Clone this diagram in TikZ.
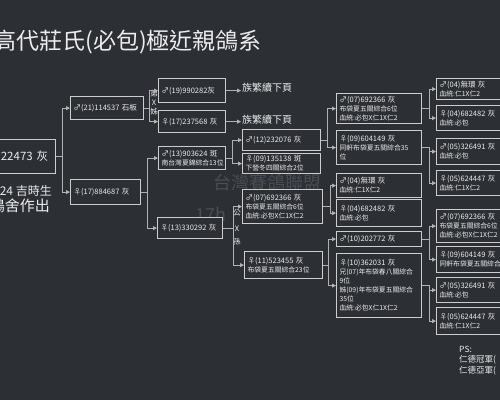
\documentclass[tikz,border=0pt]{standalone}
\usepackage{fontspec}
\setmainfont{Noto Sans CJK TC}
\usepackage{tikz}
\usetikzlibrary{arrows.meta,positioning}
\definecolor{bgc}{RGB}{44,47,52}
\definecolor{linec}{RGB}{205,205,205}
\definecolor{wirec}{RGB}{178,178,178}
\definecolor{txtc}{RGB}{236,236,236}
\definecolor{markc}{RGB}{74,78,84}
\tikzset{pbox/.style 2 args={draw=linec,fill=bgc,line width=1.2pt,anchor=north west,align=left,
  inner xsep=3pt,inner ysep=0pt,text=txtc,font=\fontsize{7.5}{9}\selectfont,
  minimum width=#1,text width=#1-6,minimum height=#2}}
\tikzstyle{wire}=[draw=wirec,line width=.8pt,-{Triangle[length=4pt,width=4pt]}]
\tikzstyle{lbl}=[text=txtc,inner sep=0pt,font=\fontsize{7.5}{8}\selectfont]
\tikzstyle{wmark}=[text=markc,inner sep=0pt,font=\fontsize{18}{20}\selectfont]
\newcommand{\subl}[1]{{\fontsize{6.8}{9}\selectfont #1}}

\begin{document}
\begin{tikzpicture}[x=1pt,y=-1pt]
\useasboundingbox (0,0) rectangle (500,400);
\clip (0,0) rectangle (500,400);
\fill[bgc] (0,0) rectangle (500,400);
\node[text=txtc,anchor=east,inner sep=0pt,font=\fontsize{23}{26}\selectfont] (title) at (262,42) {高代莊氏(必包)極近親鴿系};
\node[wmark] (wm1) at (267,183) {台灣賽鴿聯盟};
\node[wmark,anchor=west] (wm2) at (195,214) {17h};

\node[pbox={65}{34},align=right,text width=50,font=\fontsize{11.5}{13}\selectfont] (root) at (-10,139) {22473 灰};
\node[text=txtc,anchor=east,inner sep=0pt,font=\fontsize{12}{14}\selectfont] (born) at (52,191) {.24 吉時生};
\node[text=txtc,anchor=east,inner sep=0pt,font=\fontsize{15}{17}\selectfont] (loft) at (50,206) {鴿舍作出};

\node[pbox={73}{23}] (n21) at (70,96) {♂(21)114537 石板};
\node[pbox={70}{25}] (n17) at (70,179) {♀(17)884687 灰};

\node[pbox={67}{24}] (n19) at (158,78) {♂(19)990282灰};
\node[pbox={67}{22}] (n17b) at (158,110) {♀(17)237568 灰};
\node[pbox={67}{23}] (n13a) at (158,146) {♂(13)903624 斑\\\subl{南台灣夏錦綜合13位}};
\node[pbox={65}{21}] (n13b) at (157,217) {♀(13)330292 灰};
\node[text=txtc,anchor=west,inner sep=1pt,font=\fontsize{10}{12}\selectfont] (nt1) at (241,88) {族繁續下頁};
\node[text=txtc,anchor=west,inner sep=1pt,font=\fontsize{10}{12}\selectfont] (nt2) at (241,120) {族繁續下頁};
\node[lbl] (t1) at (154,94) {弟};
\node[lbl] (t2) at (154,103) {X};
\node[lbl] (t3) at (154,112) {姊};

\node[pbox={78}{21}] (n12) at (242,129) {♂(12)232076 灰};
\node[pbox={78}{20}] (n09) at (242,153) {♀(09)135138 斑\\\subl{下營冬四關綜合2位}};
\node[pbox={80}{34}] (n07) at (242,189) {♂(07)692366 灰\\\subl{布袋夏五關綜合6位}\\\subl{血統:必包X仁1X仁2}};
\node[pbox={78}{27}] (n11) at (244,251) {♀(11)523455 灰\\\subl{布袋夏五關綜合23位}};
\node[lbl] (t4) at (237,213) {公};
\node[lbl] (t5) at (237,229) {X};
\node[lbl] (t6) at (237,242) {孫};

\node[pbox={85}{30}] (m07) at (336,93) {♂(07)692366 灰\\\subl{布袋夏五關綜合6位}\\\subl{血統:必包X仁1X仁2}};
\node[pbox={85}{34}] (m09) at (336,130) {♀(09)604149 灰\\\subl{同軒布袋夏五關綜合35}\\\subl{位}};
\node[pbox={85}{24}] (m04a) at (336,173) {♂(04)無環 灰\\\subl{血統:仁1X仁2}};
\node[pbox={85}{27}] (m04b) at (336,199) {♀(04)682482 灰\\\subl{血統:必包}};
\node[pbox={85}{15}] (m10a) at (336,231) {♂(10)202772 灰};
\node[pbox={85}{64}] (m10b) at (336,253) {♀(10)362031 灰\\\subl{兄(07)年布袋春八關綜合}\\\subl{9位}\\\subl{姊(09)年布袋夏五關綜合}\\\subl{35位}\\\subl{血統:必包X仁1X仁2}};

\node[pbox={92}{21}] (k04a) at (436,78) {♂(04)無環 灰\\\subl{血統:仁1X仁2}};
\node[pbox={92}{25}] (k04b) at (436,105) {♀(04)682482 灰\\\subl{血統:必包}};
\node[pbox={92}{26}] (k05a) at (436,138) {♂(05)326491 灰\\\subl{血統:必包}};
\node[pbox={92}{25}] (k05b) at (436,170) {♀(05)624447 灰\\\subl{血統:仁1X仁2}};
\node[pbox={92}{33}] (k07) at (436,209) {♂(07)692366 灰\\\subl{布袋夏五關綜合6位}\\\subl{血統:必包X仁1X仁2}};
\node[pbox={92}{26}] (k09) at (436,246) {♀(09)604149 灰\\\subl{同軒布袋夏五關綜合35}};
\node[pbox={92}{25}] (k05c) at (436,277) {♂(05)326491 灰\\\subl{血統:必包}};
\node[pbox={92}{27}] (k05d) at (436,307) {♀(05)624447 灰\\\subl{血統:仁1X仁2}};

\node[text=txtc,anchor=west,inner sep=0pt,font=\fontsize{8.5}{10}\selectfont] (ps) at (459,349) {PS:};
\node[text=txtc,anchor=west,inner sep=0pt,font=\fontsize{8.5}{10}\selectfont] (ps1) at (459,360) {仁德冠軍(};
\node[text=txtc,anchor=west,inner sep=0pt,font=\fontsize{8.5}{10}\selectfont] (ps2) at (459,371) {仁德亞軍(};

\foreach \p/\a/\b/\d in {root/n21/n17/6,n21/n19/n17b/5,n17/n13a/n13b/6,n13a/n12/n09/6,
  n13b/n07/n11/10,n12/m07/m09/6,n07/m04a/m04b/7,n11/m10a/m10b/5,
  m07/k04a/k04b/7,m09/k05a/k05b/7,m10a/k07/k09/7,m10b/k05c/k05d/7}{
  \draw[wire] (\p.east) -- ++(\d,0) |- (\a.west);
  \draw[wire] (\p.east) -- ++(\d,0) |- (\b.west);
}
\draw[wire] (n19.east) -- (n19.east -| nt1.west);
\draw[wire] (n17b.east) -- (n17b.east -| nt2.west);
\end{tikzpicture}
\end{document}
